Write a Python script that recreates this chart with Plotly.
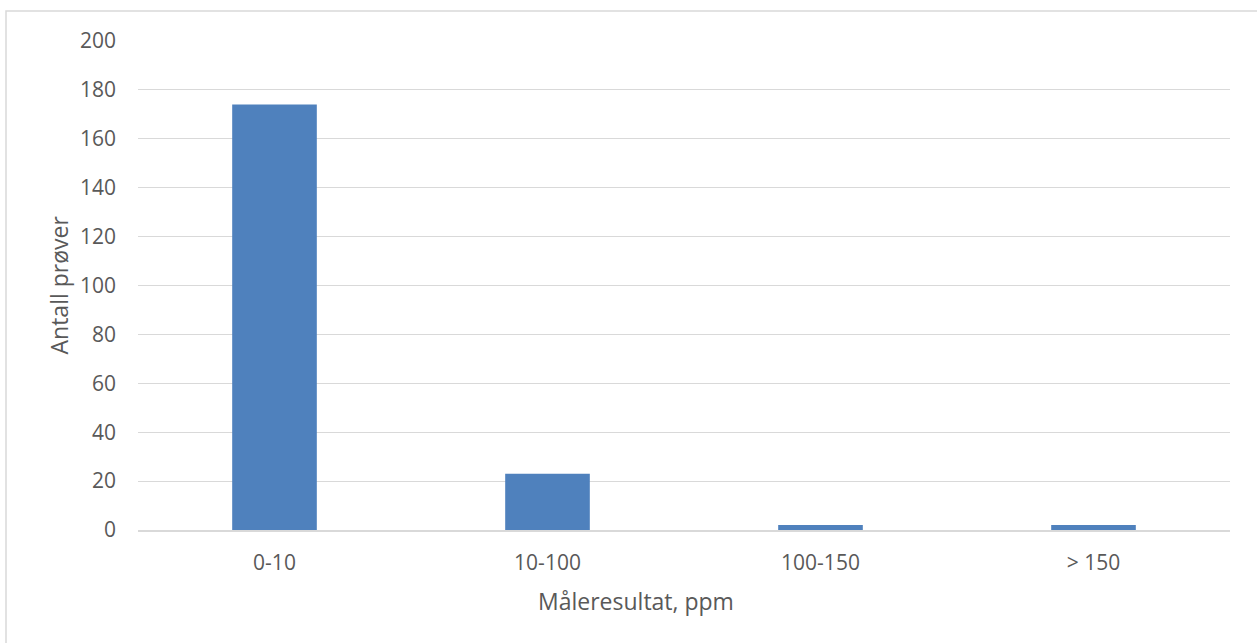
import plotly.graph_objects as go

# Antall prøver per måleintervall
categories = ["0-10", "10-100", "100-150", "> 150"]
counts = [174, 23, 2, 2]
y_ticks = [0, 20, 40, 60, 80, 100, 120, 140, 160, 180, 200]

W, H = 1257, 643
L, R, T, B = 138, 27, 41, 113
pw, ph = W - L - R, H - T - B

TEXT = "#595959"
GRID = "#D9D9D9"
FONT = "Open Sans"
TICK_SIZE = 21
TITLE_SIZE = 23

fig = go.Figure(
    go.Bar(
        x=categories,
        y=counts,
        marker=dict(color="#4F81BD", line=dict(width=0)),
        width=0.31,
    )
)

fig.update_layout(
    width=W,
    height=H,
    margin=dict(l=L, r=R, t=T, b=B, pad=0),
    paper_bgcolor="white",
    plot_bgcolor="white",
    showlegend=False,
    font=dict(family=FONT, color=TEXT, size=TICK_SIZE),
    xaxis=dict(
        showgrid=False,
        showline=True,
        linecolor=GRID,
        linewidth=1.5,
        ticks="",
        tickfont=dict(size=TICK_SIZE, color=TEXT),
        ticklabelstandoff=13,
        range=[-0.5, 3.5],
        zeroline=False,
    ),
    yaxis=dict(
        range=[0, 200],
        tickvals=y_ticks,
        showgrid=True,
        gridcolor=GRID,
        gridwidth=1.2,
        zeroline=False,
        showline=False,
        ticks="",
        tickfont=dict(size=TICK_SIZE, color=TEXT),
        ticklabelstandoff=21,
    ),
)

# Aksetitler: x-tittel sentrert på hele diagrammet, y-tittel på plottområdet
fig.add_annotation(
    text="Måleresultat, ppm",
    xref="paper", yref="paper",
    x=(636 - L) / pw, y=(H - 601 - B) / ph,
    xanchor="center", yanchor="middle",
    showarrow=False,
    font=dict(size=TITLE_SIZE, color=TEXT, family=FONT),
)
fig.add_annotation(
    text="Antall prøver",
    xref="paper", yref="paper",
    x=(58 - L) / pw, y=0.5,
    xanchor="center", yanchor="middle",
    textangle=-90,
    showarrow=False,
    font=dict(size=TITLE_SIZE, color=TEXT, family=FONT),
)

# Ramme rundt hele diagrammet
fig.add_shape(
    type="rect",
    xref="paper",
    yref="paper",
    x0=(6 - L) / pw,
    x1=(W + 10 - L) / pw,
    y0=(H - (H + 10) - B) / ph,
    y1=(H - 11 - B) / ph,
    line=dict(color=GRID, width=1.5),
    fillcolor="rgba(0,0,0,0)",
    layer="below",
)

fig.write_html("out.html")
